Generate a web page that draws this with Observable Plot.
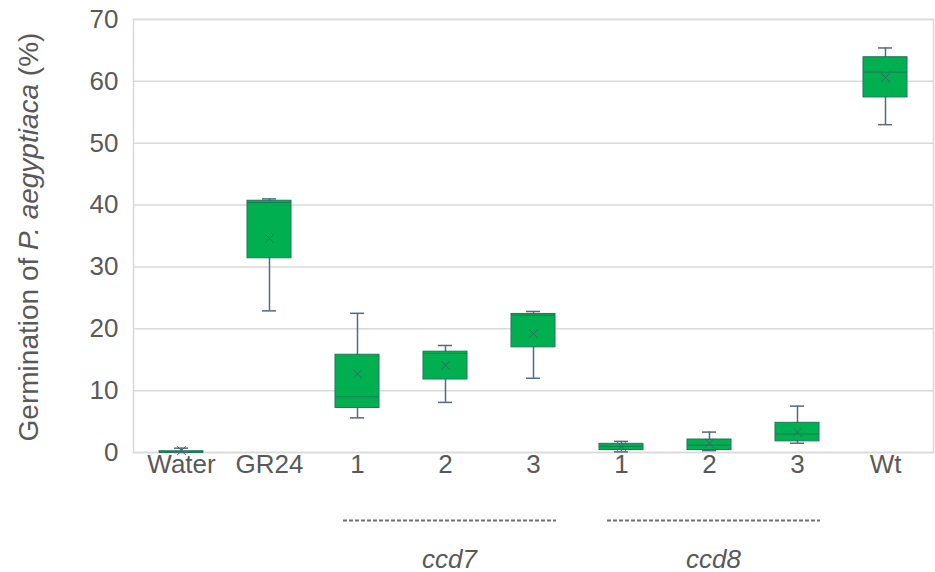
<!DOCTYPE html>
<html>
<head>
<meta charset="utf-8">
<script src="https://cdn.jsdelivr.net/npm/d3@7"></script>
<script src="https://cdn.jsdelivr.net/npm/@observablehq/plot@0.6"></script>
<style>
  html, body { margin: 0; padding: 0; background: #fff; }
  #chart { width: 935px; height: 572px; }
</style>
</head>
<body>
<div id="chart"></div>
<script>
// ---- Data ----
const ids = ["Water", "GR24", "ccd7_1", "ccd7_2", "ccd7_3", "ccd8_1", "ccd8_2", "ccd8_3", "Wt"];
const tickLabels = ["Water", "GR24", "1", "2", "3", "1", "2", "3", "Wt"];
const whiskerLow  = [0.0, 22.9,  5.6,  8.1, 12.0, 0.1, 0.3, 1.5, 53.0];
const q1          = [0.0, 31.4,  7.2, 11.8, 17.0, 0.4, 0.4, 1.8, 57.4];
const median      = [0.0, 40.4,  9.0, 16.0, 22.2, 1.0, 1.2, 3.0, 61.5];
const q3          = [0.2, 40.7, 15.8, 16.3, 22.4, 1.4, 2.1, 4.8, 63.9];
const whiskerHigh = [0.7, 41.0, 22.5, 17.3, 22.8, 1.8, 3.3, 7.5, 65.4];
const mean        = [0.3, 34.6, 12.7, 14.1, 19.2, 1.0, 1.5, 3.3, 60.6];
const yTicks = [0, 10, 20, 30, 40, 50, 60, 70];

const groupNames = ["ccd7", "ccd8"];
const groupFirst = ["ccd7_1", "ccd8_1"];
const groupMiddle = ["ccd7_2", "ccd8_2"];
const groupLast = ["ccd7_3", "ccd8_3"];
const groupLineY = [-11, -11];
const groupTextY = [-17.3, -17.3];

const yLabelParts = [
  {text: "Germination of ", italic: false},
  {text: "P. aegyptiaca", italic: true},
  {text: " (%)", italic: false}
];

// ---- Tables built from the arrays ----
const boxes = ids.map((id, i) => ({
  id, lo: whiskerLow[i], q1: q1[i], med: median[i], q3: q3[i], hi: whiskerHigh[i], mean: mean[i]
}));
const groups = groupNames.map((g, i) => ({
  name: g, first: groupFirst[i], mid: groupMiddle[i], last: groupLast[i], ly: groupLineY[i], ty: groupTextY[i]
}));
const labelOf = new Map(ids.map((d, i) => [d, tickLabels[i]]));

const textColor = "#595959";
const gridColor = "#d9d9d9";
const boxFill = "#00b050";
const boxStroke = "#1d7658";
const whiskerColor = "#56697f";
const font = "'Liberation Sans', Arial, sans-serif";

const chart = Plot.plot({
  width: 935,
  height: 572,
  marginLeft: 133,
  marginRight: 2,
  marginTop: 19,
  marginBottom: 120,
  style: {fontFamily: font, background: "#fff", overflow: "visible"},
  x: {domain: ids, padding: 0, label: null},
  y: {domain: [0, 70], label: null},
  marks: [
    Plot.gridY(yTicks, {stroke: gridColor, strokeOpacity: 1, strokeWidth: 1.5}),
    Plot.frame({stroke: gridColor, strokeWidth: 1.5}),
    Plot.axisY(yTicks, {tickSize: 0, tickPadding: 15, fontSize: 26, fill: textColor, label: null}),
    Plot.axisX({tickSize: 0, tickPadding: 2, fontSize: 26, fill: textColor, label: null,
      tickFormat: d => labelOf.get(d)}),
    Plot.ruleX(boxes, {x: "id", y1: "lo", y2: "hi", stroke: whiskerColor, strokeWidth: 1.5}),
    Plot.barY(boxes, {x: "id", y1: "q1", y2: "q3", fill: boxFill, stroke: boxStroke, strokeWidth: 1,
      insetLeft: 22, insetRight: 22}),
    Plot.tickY(boxes, {x: "id", y: "med", stroke: boxStroke, strokeWidth: 1, insetLeft: 22, insetRight: 22}),
    Plot.tickY(boxes, {x: "id", y: "lo", stroke: whiskerColor, strokeWidth: 1.5, insetLeft: 37, insetRight: 37}),
    Plot.tickY(boxes, {x: "id", y: "hi", stroke: whiskerColor, strokeWidth: 1.5, insetLeft: 37, insetRight: 37}),
    Plot.dot(boxes, {x: "id", y: "mean", symbol: "times", r: 4, stroke: "#2f6d62", strokeWidth: 1}),
    Plot.ruleY(groups, {x1: "first", x2: "last", y: "ly", stroke: "#6f6f6f", strokeWidth: 2,
      strokeDasharray: "4,2", insetLeft: 30, insetRight: 21}),
    Plot.text(groups, {x: "mid", y: "ty", text: "name", fontSize: 26, fontStyle: "italic", fill: textColor, dx: 4})
  ]
});

document.getElementById("chart").appendChild(chart);

// Y axis title with mixed italic styling
const svg = d3.select(chart);
const t = svg.append("text")
  .attr("transform", "translate(31,237) rotate(-90)")
  .attr("text-anchor", "middle")
  .attr("dominant-baseline", "middle")
  .attr("font-size", 28)
  .attr("font-family", font)
  .attr("fill", textColor);
yLabelParts.forEach(p => {
  t.append("tspan").attr("font-style", p.italic ? "italic" : "normal").text(p.text);
});
</script>
</body>
</html>
